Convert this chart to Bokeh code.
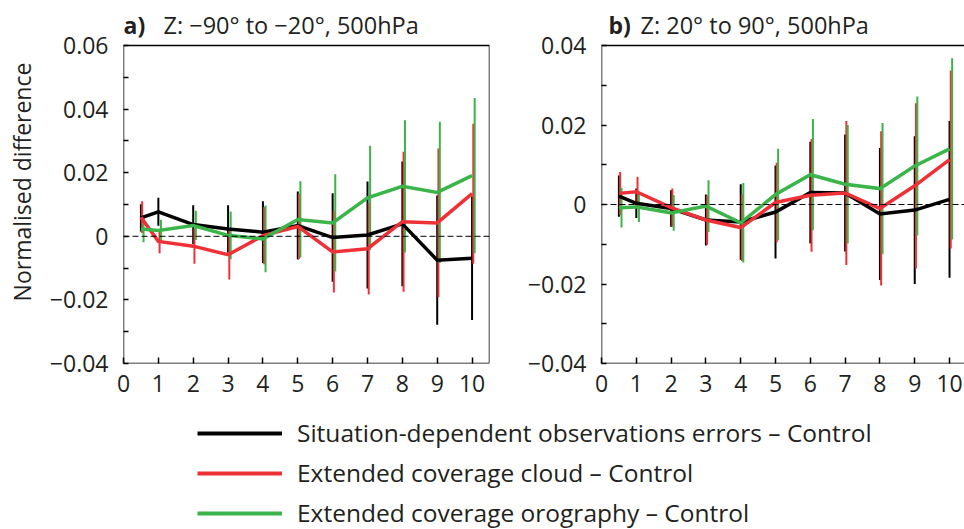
from bokeh.plotting import figure
from bokeh.layouts import column, row
from bokeh.models import (FixedTicker, CustomJSTickFormatter, Span, Legend,
                          LegendItem, ColumnDataSource, Range1d)
from bokeh.core.properties import value
from bokeh.transform import dodge
from bokeh.embed import file_html
from bokeh.resources import INLINE

# ---------------- data ----------------
lead = [0.5, 1, 2, 3, 4, 5, 6, 7, 8, 9, 10]
x_ticks = list(range(11))

# panel a: Z, -90 to -20, 500hPa
a_sit = [0.0058, 0.0077, 0.0037, 0.0023, 0.0013, 0.0034, -0.0004, 0.0004, 0.0039, -0.0075, -0.0069]
a_sit_err = [0.0043, 0.0044, 0.0061, 0.0075, 0.0097, 0.0107, 0.0139, 0.0168, 0.0196, 0.0203, 0.0194]
a_cld = [0.0060, -0.0016, -0.0031, -0.0058, 0.0002, 0.0031, -0.0049, -0.0039, 0.0046, 0.0042, 0.0134]
a_cld_err = [0.0050, 0.0037, 0.0055, 0.0078, 0.0090, 0.0102, 0.0128, 0.0144, 0.0220, 0.0234, 0.0220]
a_oro = [0.0023, 0.0018, 0.0034, 0.0003, -0.0008, 0.0053, 0.0042, 0.0121, 0.0157, 0.0138, 0.0191]
a_oro_err = [0.0042, 0.0034, 0.0046, 0.0075, 0.0105, 0.0120, 0.0153, 0.0164, 0.0208, 0.0222, 0.0244]

# panel b: Z, 20 to 90, 500hPa
b_sit = [0.0021, 0.0003, -0.0010, -0.0039, -0.0044, -0.0019, 0.0030, 0.0029, -0.0024, -0.0014, 0.0013]
b_sit_err = [0.0052, 0.0037, 0.0046, 0.0064, 0.0095, 0.0117, 0.0128, 0.0147, 0.0166, 0.0186, 0.0197]
b_cld = [0.0028, 0.0032, -0.0008, -0.0039, -0.0058, 0.0005, 0.0023, 0.0029, -0.0010, 0.0047, 0.0113]
b_cld_err = [0.0054, 0.0038, 0.0048, 0.0062, 0.0084, 0.0100, 0.0142, 0.0181, 0.0194, 0.0208, 0.0224]
b_oro = [-0.0008, -0.0006, -0.0021, -0.0004, -0.0046, 0.0025, 0.0075, 0.0051, 0.0040, 0.0097, 0.0140]
b_oro_err = [0.0050, 0.0038, 0.0045, 0.0065, 0.0100, 0.0115, 0.0140, 0.0149, 0.0165, 0.0175, 0.0228]

series_names = ["Situation-dependent observations errors \u2013 Control",
                "Extended coverage cloud \u2013 Control",
                "Extended coverage orography \u2013 Control"]
a_ylim = (-0.04, 0.06)
b_ylim = (-0.04, 0.04)
a_ticks = [-0.04, -0.02, 0, 0.02, 0.04, 0.06]
b_ticks = [-0.04, -0.02, 0, 0.02, 0.04]
a_minor = [-0.03, -0.01, 0.01, 0.03, 0.05]
b_minor = [-0.03, -0.01, 0.01, 0.03]

title_a = ("a)", "Z: \u221290\u00b0 to \u221220\u00b0, 500hPa")
title_b = ("b)", "Z: 20\u00b0 to 90\u00b0, 500hPa")
ylabel = "Normalised difference"

# ---------------- style / layout ----------------
FONT = "Open Sans"
TXT = "#231F20"
COLORS = ["#000000", "#EE3137", "#3BB44A"]
OFFS = [0.0, 0.035, 0.075]
TICK_FS = "23px"
PANEL_H = 408      # canvas height of a panel
BOX_TOP = 45       # px from canvas top to the top of the data box
BOX_BOTTOM = 45    # px below the data box (x tick labels)

fmt = CustomJSTickFormatter(code="""
if (Math.abs(tick) < 1e-9) { return '0'; }
return tick.toFixed(2).replace('-', '\u2212');
""")


def make_panel(width, border_left, border_right, xend, ylim, ticks, minor, title,
               title_dx, title_gap, series, show_ylabel):
    frame_h = PANEL_H - BOX_BOTTOM
    box_h = frame_h - BOX_TOP
    # the frame extends above the data box to hold the panel title
    ytop = ylim[1] + BOX_TOP * (ylim[1] - ylim[0]) / box_h
    p = figure(width=width, height=PANEL_H, x_range=Range1d(0, xend),
               y_range=Range1d(ylim[0], ytop),
               min_border_left=border_left, min_border_right=border_right,
               min_border_top=0, min_border_bottom=BOX_BOTTOM,
               output_backend="svg", toolbar_location=None)
    p.title = None
    p.outline_line_color = None
    p.xgrid.grid_line_color = None
    p.ygrid.grid_line_color = None
    p.background_fill_color = "white"
    p.border_fill_color = "white"
    p.extra_x_ranges = {"px": Range1d(0, width - border_left - border_right)}
    p.extra_y_ranges = {"px": Range1d(0, frame_h)}

    xa = p.below[0]
    xa.ticker = FixedTicker(ticks=x_ticks)
    xa.axis_line_color = None
    xa.major_tick_in = 6
    xa.major_tick_out = 0
    xa.major_tick_line_width = 1.5
    xa.minor_tick_line_color = None
    xa.major_label_text_font = FONT
    xa.major_label_text_font_size = TICK_FS
    xa.major_label_text_color = TXT
    xa.major_label_standoff = 11

    ya = p.left[0]
    ya.bounds = ylim
    ya.ticker = FixedTicker(ticks=ticks, minor_ticks=minor)
    ya.formatter = fmt
    ya.axis_line_color = None
    ya.major_tick_in = 5
    ya.major_tick_out = 0
    ya.minor_tick_in = 5
    ya.minor_tick_out = 0
    ya.major_tick_line_width = 1.5
    ya.minor_tick_line_width = 1.5
    ya.major_label_text_font = FONT
    ya.major_label_text_font_size = TICK_FS
    ya.major_label_text_color = TXT
    ya.major_label_standoff = 15
    if show_ylabel:
        ya.axis_label = ylabel
        ya.axis_label_text_font = FONT
        ya.axis_label_text_font_size = "23px"
        ya.axis_label_text_font_style = "normal"
        ya.axis_label_text_color = TXT
        ya.axis_label_standoff = 9

    # data box (axes frame) from the axis limits
    p.quad(left=[0], right=[10.5], bottom=[ylim[0]], top=[ylim[1]],
           fill_color=None, line_color="black", line_width=1.5, line_join="miter")

    p.add_layout(Span(location=0, dimension="width", line_color="black",
                      line_width=1, line_dash="6 3"))

    # error bars first
    for (vals, errs), col, off in zip(series, COLORS, OFFS):
        src = ColumnDataSource(dict(x=lead,
                                    lo=[v - e for v, e in zip(vals, errs)],
                                    hi=[v + e for v, e in zip(vals, errs)]))
        p.segment(x0=dodge("x", off), y0="lo", x1=dodge("x", off), y1="hi",
                  source=src, line_color=col, line_width=2)
    # mean lines
    for (vals, errs), col in zip(series, COLORS):
        p.line(lead, vals, line_color=col, line_width=3.5, line_join="miter")

    # panel title (pixel ranges inside the frame, above the box)
    ty = frame_h - 24
    p.text(x=[title_dx], y=[ty], text=[title[0]], text_font=value(FONT),
           text_font_size="23px", text_font_style="bold", text_color=TXT,
           text_baseline="middle", x_range_name="px", y_range_name="px")
    p.text(x=[title_dx + title_gap], y=[ty], text=[title[1]], text_font=value(FONT),
           text_font_size="23.5px", text_color=TXT, text_baseline="middle",
           x_range_name="px", y_range_name="px")
    return p


p1 = make_panel(520, 123, 31, 10.5, a_ylim, a_ticks, a_minor, title_a, 0, 40,
                [(a_sit, a_sit_err), (a_cld, a_cld_err), (a_oro, a_oro_err)], True)
p2 = make_panel(444, 81, 0, 10.43, b_ylim, b_ticks, b_minor, title_b, 7, 32,
                [(b_sit, b_sit_err), (b_cld, b_cld_err), (b_oro, b_oro_err)], False)

# legend figure: series drawn outside its visible range, only the legend shows
p3 = figure(width=964, height=121, x_range=Range1d(-10, -9), y_range=Range1d(0, 1),
            x_axis_type=None, y_axis_type=None, min_border=0,
            output_backend="svg", toolbar_location=None)
p3.title = None
p3.outline_line_color = None
p3.xgrid.grid_line_color = None
p3.ygrid.grid_line_color = None
items = []
for name, vals, col in zip(series_names, [a_sit, a_cld, a_oro], COLORS):
    r = p3.line(lead, vals, line_color=col, line_width=4)
    items.append(LegendItem(label=name, renderers=[r]))
leg = Legend(items=items, location=(197, 0), orientation="vertical",
             glyph_width=85, glyph_height=24, label_height=24, spacing=7,
             label_standoff=15, padding=0, margin=0,
             border_line_color=None, background_fill_alpha=0,
             label_text_font=FONT, label_text_font_size="24.5px", label_text_color=TXT)
p3.add_layout(leg, "center")

layout = column(row(p1, p2), p3)
open("out.html", "w").write(file_html(layout, INLINE))
